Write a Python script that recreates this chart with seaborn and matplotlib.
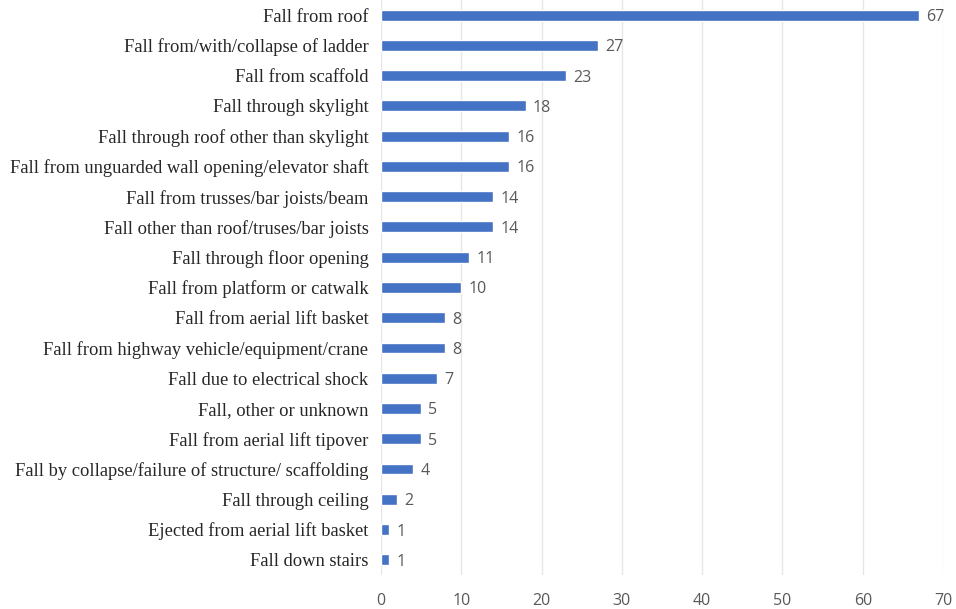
import pandas as pd
import matplotlib.pyplot as plt
import seaborn as sns

# Dados
causas = [
    "Fall from roof",
    "Fall from/with/collapse of ladder",
    "Fall from scaffold",
    "Fall through skylight",
    "Fall through roof other than skylight",
    "Fall from unguarded wall opening/elevator shaft",
    "Fall from trusses/bar joists/beam",
    "Fall other than roof/truses/bar joists",
    "Fall through floor opening",
    "Fall from platform or catwalk",
    "Fall from aerial lift basket",
    "Fall from highway vehicle/equipment/crane",
    "Fall due to electrical shock",
    "Fall, other or unknown",
    "Fall from aerial lift tipover",
    "Fall by collapse/failure of structure/ scaffolding",
    "Fall through ceiling",
    "Ejected from aerial lift basket",
    "Fall down stairs",
]
valores = [67, 27, 23, 18, 16, 16, 14, 14, 11, 10, 8, 8, 7, 5, 5, 4, 2, 1, 1]
ticks_x = [0, 10, 20, 30, 40, 50, 60, 70]

df = pd.DataFrame({"Causa": causas, "Valor": valores})

sns.set_style("white")
fig = plt.figure(figsize=(9.56, 6.09), dpi=100)
ax = fig.add_axes([0.3985, 0.056, 0.588, 0.944])

sns.barplot(data=df, x="Valor", y="Causa", color="#4472C4", width=0.36,
            saturation=1, ax=ax, zorder=3)

ax.set_xlim(0, 70)
ax.set_ylim(18.5, -0.5)
ax.set_xticks(ticks_x)
ax.xaxis.grid(True, color="#e6e6e6", linewidth=1, zorder=0)
ax.set_axisbelow(True)
for s in ax.spines.values():
    s.set_visible(False)
ax.set_xlabel("")
ax.set_ylabel("")
ax.tick_params(axis="both", length=0)
ax.tick_params(axis="x", pad=13, labelsize=11.5, labelcolor="#595959")
ax.tick_params(axis="y", pad=9)
for lbl in ax.get_xticklabels():
    lbl.set_family("Open Sans")
for lbl in ax.get_yticklabels():
    lbl.set_family("Liberation Serif")
    lbl.set_fontsize(13.3)
    lbl.set_color("#262626")

# Rótulos de valor
for i, v in enumerate(valores):
    ax.text(v + 0.9, i, str(v), va="center_baseline", ha="left", fontsize=11.5,
            color="#595959", family="Open Sans", clip_on=False)

fig.savefig("out.png", dpi=100)
